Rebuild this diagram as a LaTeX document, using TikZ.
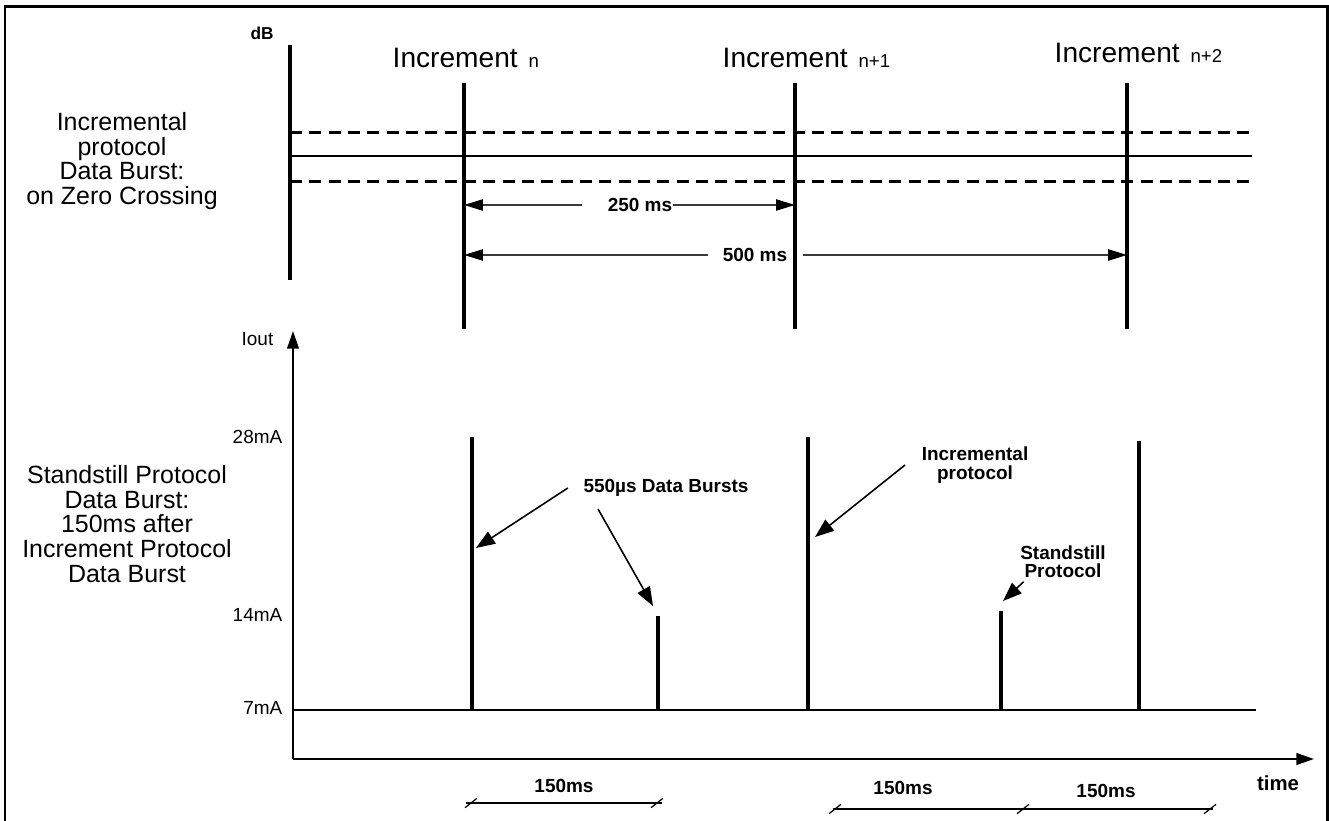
\documentclass[tikz,border=0pt]{standalone}
\usepackage{fontspec}
\setmainfont{Liberation Sans}
\setsansfont{Liberation Sans}
\usepackage{xcolor}
\usepackage{tikz}
\usetikzlibrary{arrows.meta, positioning, calc}
\definecolor{inkblack}{HTML}{000000}
\definecolor{leadgray}{HTML}{3A3A3A}
\newcommand{\idxfont}{\fontsize{5.3}{6}\selectfont}

\begin{document}
\begin{tikzpicture}[x=1cm, y=-1cm, font=\sffamily,
    frame/.style={line width=0.85pt, inkblack},
    incline/.style={line width=0.9pt, inkblack},
    band/.style={line width=0.85pt, inkblack, dash pattern=on 3.4pt off 2.1pt},
    zero/.style={line width=0.4pt, inkblack},
    span/.style={line width=0.45pt, leadgray, -{Triangle[length=5.4pt,width=3.2pt,color=inkblack]}},
    axis/.style={line width=0.55pt, inkblack, -{Triangle[length=5pt,width=3.3pt]}},
    pulse/.style={line width=0.95pt, inkblack},
    lead/.style={line width=0.45pt, inkblack, -{Triangle[length=5.4pt,width=4pt]}},
    dimline/.style={line width=0.35pt, inkblack},
    side/.style={font=\fontsize{7.1}{7}\selectfont, align=center, inner sep=0pt},
    inclabel/.style={font=\fontsize{8}{9}\selectfont, anchor=base west, inner sep=0pt},
    note/.style={font=\bfseries\fontsize{5.4}{5.2}\selectfont, align=center, inner sep=0pt},
    mAlabel/.style={font=\fontsize{5.4}{6}\selectfont, anchor=east, inner sep=0pt}]
    \useasboundingbox (0,0) rectangle (13.29,8.21);

    % Outer frame (bottom edge runs off the page)
    \draw[frame] (0.05,8.21) |- (13.27,0.07) -- (13.27,8.21);

    % Upper trace: dB axis, zero line and the two limits
    \node[note, font=\bfseries\fontsize{4.9}{5}\selectfont] (dB) at (2.62,0.33) {dB};
    \draw[incline] (2.90,0.45) -- (2.90,2.80);
    \draw[band] (2.90,1.33) -- (12.50,1.33);
    \draw[zero] (2.90,1.56) -- (12.52,1.56);
    \draw[band] (2.90,1.82) -- (12.50,1.82);
    \node[side] (topnote) at (1.22,1.61)
      {Incremental\\protocol\\Data Burst:\\on Zero Crossing};

    % Zero crossings
    \foreach \name/\x in {incA/4.64, incB/7.95, incC/11.27} {
      \coordinate (\name) at (\x,0.83);
      \draw[incline] (\name) -- (\x,3.29);
    }
    \node[inclabel] (labA) at (3.92,0.68) {Increment\hspace{3.1pt}{\idxfont n}};
    \node[inclabel] (labB) at (7.22,0.68) {Increment\hspace{3.1pt}{\idxfont n+1}};
    \node[inclabel] (labC) at (10.54,0.63) {Increment\hspace{3.1pt}{\idxfont n+2}};

    % Spacing of the crossings
    \node[note] (d250) at (6.40,2.05) {250 ms};
    \draw[span] ([xshift=-0.25cm]d250.west) -- (d250.west -| incA);
    \draw[span] (d250.east) -- (d250.east -| incB);
    \node[note] (d500) at (7.55,2.55) {500 ms};
    \draw[span] ([xshift=-0.14cm]d500.west) -- (d500.west -| incA);
    \draw[span] ([xshift=0.15cm]d500.east) -- (d500.east -| incC);

    % Lower trace: loop current
    \node[side] (lownote) at (1.27,5.24)
      {Standstill Protocol\\Data Burst:\\150ms after\\Increment Protocol\\Data Burst};
    \coordinate (orig) at (2.93,7.59);
    \draw[axis] (orig) -- (2.93,3.31);
    \draw[axis] (orig) -- (13.14,7.59);
    \node[mAlabel] (iout) at (2.74,3.39) {Iout};
    \node[mAlabel] (ma28) at (2.83,4.37) {28mA};
    \node[mAlabel] (ma14) at (2.83,6.15) {14mA};
    \node[mAlabel] (ma7) at (2.83,7.08) {7mA};
    \node[note, font=\bfseries\fontsize{5.8}{6}\selectfont] (tlabel) at (12.78,7.83) {time};
    \draw[zero, line width=0.55pt] (2.93,7.10) -- (12.56,7.10);
    \foreach \name/\x/\h in {pA/4.72/4.37, pB/8.08/4.37, pC/11.39/4.41, sA/6.58/6.16, sB/10.01/6.11} {
      \coordinate (\name) at (\x,\h);
      \draw[pulse] (\x,7.10) -- (\name);
    }

    % Callouts
    \coordinate (hitA) at (4.76,5.48);
    \coordinate (hitB) at (6.53,6.06);
    \coordinate (hitC) at (8.15,5.37);
    \coordinate (hitD) at (10.03,6.01);
    \node[note] (bursts) at (6.66,4.88) {550µs Data Bursts};
    \draw[lead] ([xshift=-0.15cm]bursts.west) -- (hitA);
    \draw[lead] ([shift={(-0.68,0.21)}]bursts.center) -- (hitB);
    \node[note] (incnote) at (9.75,4.65) {Incremental\\protocol};
    \draw[lead] ([xshift=-0.16cm]incnote.west) -- (hitC);
    \node[note] (stillnote) at (10.63,5.62) {Standstill\\Protocol};
    \draw[lead] ([shift={(0.04,0.03)}]stillnote.south west) -- (hitD);

    % Spacing of the standstill bursts
    \node[note] (gapA) at (5.64,7.86) {150ms};
    \node[note] (gapB) at (9.03,7.88) {150ms};
    \node[note] (gapC) at (11.06,7.91) {150ms};
    \draw[dimline] (4.66,8.03) -- (6.62,8.03);
    \draw[dimline] (8.33,8.09) -- (12.13,8.09);
    \foreach \x/\y in {4.71/8.03, 6.57/8.03, 8.35/8.09, 10.23/8.09, 12.10/8.09}
      \draw[dimline] (\x-0.06,\y+0.047) -- (\x+0.06,\y-0.047);
\end{tikzpicture}
\end{document}
